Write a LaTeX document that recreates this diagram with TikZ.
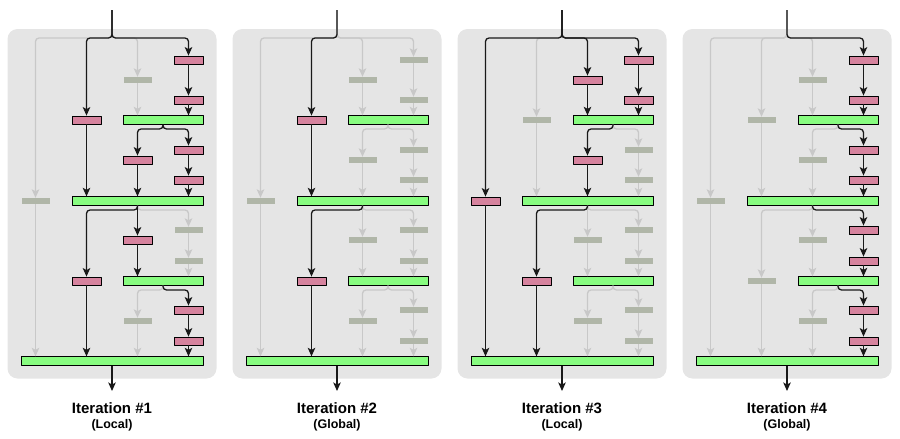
\documentclass[tikz,border=0pt]{standalone}
\usepackage{fontspec}
\setmainfont{Liberation Sans}
\usetikzlibrary{arrows.meta}
\definecolor{convpink}{RGB}{214,131,158}
\definecolor{joingreen}{RGB}{136,252,128}
\definecolor{idlegrey}{RGB}{176,182,168}
\definecolor{panelgrey}{RGB}{229,229,229}
\definecolor{linkgrey}{RGB}{200,200,200}
\begin{document}
\begin{tikzpicture}[x=1pt, y=-1pt, >={Stealth[length=8.5pt,width=7.5pt,inset=2pt]}, line join=round,
    lnk/.style={line width=1.3pt, rounded corners=3.5pt, ->},
    l0/.style={lnk, draw=linkgrey},
    l1/.style={lnk, draw=black!90},
    s0/.style={fill=idlegrey, minimum width=28pt, minimum height=6pt, inner sep=0pt},
    s1/.style={fill=convpink, draw=black, line width=.8pt, minimum width=29pt, minimum height=8pt, inner sep=0pt},
    merge/.style={fill=joingreen, draw=black, line width=.8pt, minimum height=8.5pt, inner sep=0pt}]
  \useasboundingbox (0,0) rectangle (900,439);
  %\draw[color=gray!50,dashed] (0,0) grid[step=50] (900,439);
  \foreach \i/\lab/\act in {1/Local/{a1,a2,a3,a4,a7,a8,b2,b3,c1,c2},
      2/Global/{c1,c2},
      3/Local/{a1,a2,b1,b2,c2,d1},
      4/Global/{a1,a2,a3,a4,a5,a6,a7,a8}}{
    \foreach \b in {a1,a2,a3,a4,a5,a6,a7,a8,b1,b2,b3,b4,c1,c2,d1}
      {\expandafter\xdef\csname on\b\endcsname{0}}
    \foreach \b in \act {\expandafter\xdef\csname on\b\endcsname{1}}
    \begin{scope}[xshift={(\i-1)*225}]
      \fill[panelgrey, rounded corners=10pt] (7.5,29) rectangle (216.5,378.5);
      \foreach \b/\x/\y in {a1/188.5/60, a2/188.5/100, a3/188.5/150, a4/188.5/180,
          a5/188.5/230, a6/188.5/261, a7/188.5/310, a8/188.5/341,
          b1/137.5/80, b2/137.5/160, b3/137.5/240, b4/137.5/321,
          c1/86.5/120, c2/86.5/281, d1/35.5/201}{
        \edef\st{\csname on\b\endcsname}
        \node[s\st] (p\i\b) at (\x,\y) {};}
      \node[merge, minimum width=80pt] (p\i j1) at (163,120) {};
      \node[merge, minimum width=131pt] (p\i j2) at (137.5,201) {};
      \node[merge, minimum width=80pt] (p\i j3) at (163,281) {};
      \node[merge, minimum width=182pt] (p\i j4) at (112,361) {};
      \coordinate (p\i in) at (112,10);
      \coordinate (p\i bus) at (112,38);
      \coordinate (p\i s1) at (163,129);
      \coordinate (p\i s2) at (137.5,210);
      \coordinate (p\i s3) at (163,290);
      \coordinate (p\i out) at (112,391);
      % grey links first, then the live ones on top
      \foreach \lvl in {0,1}{
        \foreach \src/\fan/\dst in {in/bus/d1, in/bus/c1, in/bus/b1, in/bus/a1,
            j1.south/s1/b2, j1.south/s1/a3, j2.south/s2/c2, j2.south/s2/a5,
            j3.south/s3/b4, j3.south/s3/a7}{
          \ifnum\csname on\dst\endcsname=\lvl\relax
            \draw[l\lvl] (p\i\src) -- (p\i\fan) -| (p\i\dst.north);
          \fi}
        \foreach \src/\dst/\ctl in {a1/a2/a1, a2/j1/a2, b1/j1/b1, c1/j2/c1, b2/j2/b2,
            a3/a4/a3, a4/j2/a4, d1/j4/d1, j2/b3/b3, a5/a6/a5, a6/j3/a6, b3/j3/b3,
            c2/j4/c2, a7/a8/a7, a8/j4/a8, b4/j4/b4}{
          \ifnum\csname on\ctl\endcsname=\lvl\relax
            \draw[l\lvl] (p\i\src.south) -- (p\i\src.south |- p\i\dst.north);
          \fi}}
      \draw[l1] (p\i j4) -- (p\i out);
      \node[font=\bfseries\fontsize{15}{18}\selectfont] (p\i title) at (112,408) {Iteration \#\i};
      \node[font=\bfseries\fontsize{12.5}{15}\selectfont] (p\i kind) at (112,425.5) {(\lab)};
    \end{scope}}
\end{tikzpicture}
\end{document}
